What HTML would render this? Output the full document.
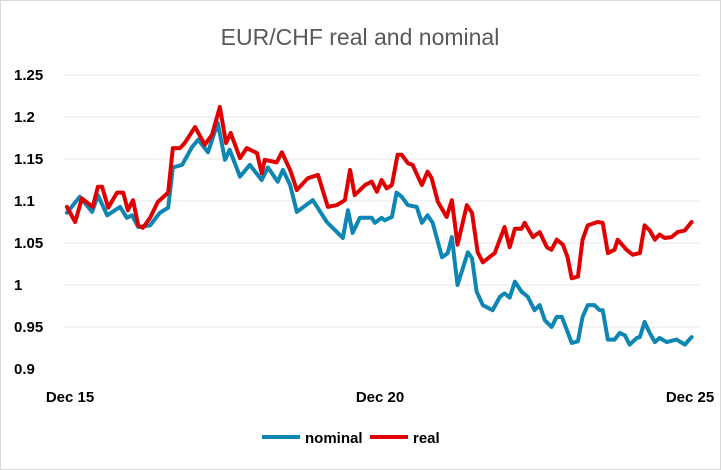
<!DOCTYPE html>
<html><head><meta charset="utf-8"><style>
body{margin:0;background:#fff}
svg{display:block;font-family:"Liberation Sans",sans-serif}
</style></head><body>
<svg id="chart" width="721" height="470">
<rect x="0.5" y="0.5" width="720" height="469" fill="#fff" stroke="#d9d9d9"/>
<text x="360" y="45" text-anchor="middle" font-size="23" fill="#595959">EUR/CHF real and nominal</text>
<g id="grid"></g><g id="yt"></g><g id="xt"></g><g id="lines"></g>
<g>
<line x1="262" y1="437" x2="300" y2="437" stroke="#0e86b4" stroke-width="4"/>
<text x="305" y="443" font-size="15" font-weight="bold" fill="#000">nominal</text>
<line x1="370" y1="437" x2="408" y2="437" stroke="#e00000" stroke-width="4"/>
<text x="413" y="443" font-size="15" font-weight="bold" fill="#000">real</text>
</g>
</svg>
<script>
const yTicks=[0.9,0.95,1,1.05,1.1,1.15,1.2,1.25];
const yTickLabels=["0.9","0.95","1","1.05","1.1","1.15","1.2","1.25"];
const xTicks=[0,60,120];
const xTickLabels=["Dec 15","Dec 20","Dec 25"];
const nomMonths=[-0.6,1.9,4.3,5.4,7.2,9.7,11,12,13.2,15.5,17.4,19,19.9,21.7,23.6,24.8,26.7,28.6,30,30.9,32.9,34.8,37.1,38.3,40.2,41.2,42.6,43.9,47,49.7,52.8,53.8,54.7,56.1,58.4,59,60.3,60.9,62.3,63.2,64.2,65.4,67.1,68.1,69.2,70.2,72,73.1,73.9,75,77,77.8,78.7,79.9,81.8,83.2,84.1,85.1,86.1,87.4,88.6,89.9,90.9,91.9,93.2,94.2,95.2,97.1,98.3,99.2,100.2,101.5,102.5,103.1,104.1,105.4,106.4,107.4,108.3,109.7,110.3,111.2,112.2,113.2,114.1,115.5,117.4,119,120.3];
const nomValues=[1.086,1.105,1.087,1.107,1.083,1.093,1.080,1.083,1.069,1.071,1.086,1.092,1.140,1.143,1.164,1.173,1.158,1.193,1.149,1.161,1.129,1.143,1.125,1.140,1.123,1.137,1.119,1.087,1.101,1.075,1.056,1.089,1.062,1.080,1.080,1.074,1.080,1.077,1.081,1.110,1.105,1.095,1.093,1.074,1.083,1.074,1.033,1.038,1.057,1.000,1.039,1.032,0.992,0.976,0.970,0.986,0.990,0.985,1.004,0.992,0.986,0.970,0.976,0.958,0.950,0.962,0.962,0.931,0.933,0.962,0.976,0.976,0.970,0.970,0.935,0.935,0.943,0.940,0.929,0.937,0.938,0.956,0.943,0.932,0.937,0.932,0.935,0.929,0.938];
const realMonths=[-0.6,1,2.3,4.4,5.4,6.2,7.4,9.1,10.3,11.2,12.2,13.2,14.1,15.5,17,19,19.9,21.3,22.2,24.2,26.1,27.5,29,30.2,31.1,32.9,34.2,36.2,37.1,37.7,40,41,42.6,43.9,46,48,49.9,51.6,53.2,54.2,55.1,57.1,58.4,59.4,60.3,61.3,62.3,63.4,64.2,65.4,66.3,68.1,69.2,70,71.2,72.9,73.9,75,76.8,77.8,78.9,79.9,82.2,84.1,85.1,86.1,87.4,88,89.6,90.9,92.3,93.2,94.2,95.4,96.3,97.1,98.3,99.2,100.2,102.1,103.1,104.1,105.4,106,107.7,108.9,110.3,111.2,112.2,113.2,114.1,115.1,116.4,117.6,119,120.3];
const realValues=[1.093,1.075,1.103,1.093,1.117,1.117,1.092,1.110,1.110,1.089,1.101,1.071,1.068,1.080,1.099,1.110,1.163,1.163,1.169,1.188,1.167,1.179,1.212,1.169,1.181,1.151,1.163,1.157,1.133,1.149,1.146,1.158,1.137,1.113,1.127,1.131,1.093,1.095,1.101,1.137,1.107,1.119,1.123,1.111,1.125,1.115,1.119,1.155,1.155,1.145,1.143,1.119,1.135,1.127,1.099,1.081,1.101,1.048,1.095,1.086,1.039,1.027,1.038,1.069,1.045,1.067,1.067,1.074,1.057,1.063,1.045,1.042,1.054,1.048,1.033,1.008,1.010,1.054,1.071,1.075,1.074,1.038,1.042,1.054,1.042,1.036,1.038,1.071,1.065,1.054,1.060,1.056,1.057,1.063,1.065,1.075];
const NS="http://www.w3.org/2000/svg";
const y=v=>369-(v-0.9)*840;
const x=m=>70+m*5.167;
function mk(t,p,a){const e=document.createElementNS(NS,t);for(const k in a)e.setAttribute(k,a[k]);p.appendChild(e);return e;}
const grid=document.getElementById('grid'),yt=document.getElementById('yt'),xt=document.getElementById('xt'),ln=document.getElementById('lines');
yTicks.forEach((v,i)=>{
 if(i>0){const g=mk('line',grid,{x1:63,x2:700,y1:y(v),y2:y(v),stroke:'#efefef','stroke-width':1.5});
 
 }
 const t=mk('text',yt,{x:14,y:y(v)+5,'font-size':15,'font-weight':'bold',fill:'#000'});t.textContent=yTickLabels[i];
 
 
});
xTicks.forEach((m,i)=>{
 const t=mk('text',xt,{x:x(m),y:402,'font-size':15,'font-weight':'bold','text-anchor':'middle',fill:'#000'});t.textContent=xTickLabels[i];
 
 
});
function line(ms,vs,c,name){
 const p=mk('polyline',ln,{points:ms.map((m,i)=>x(m)+','+y(vs[i])).join(' '),fill:'none',stroke:c,'stroke-width':4,'stroke-linejoin':'round','stroke-linecap':'round'});
 
 
}
line(nomMonths,nomValues,'#0e86b4','nominal-line');
line(realMonths,realValues,'#e00000','real-line');
</script>
</body></html>
